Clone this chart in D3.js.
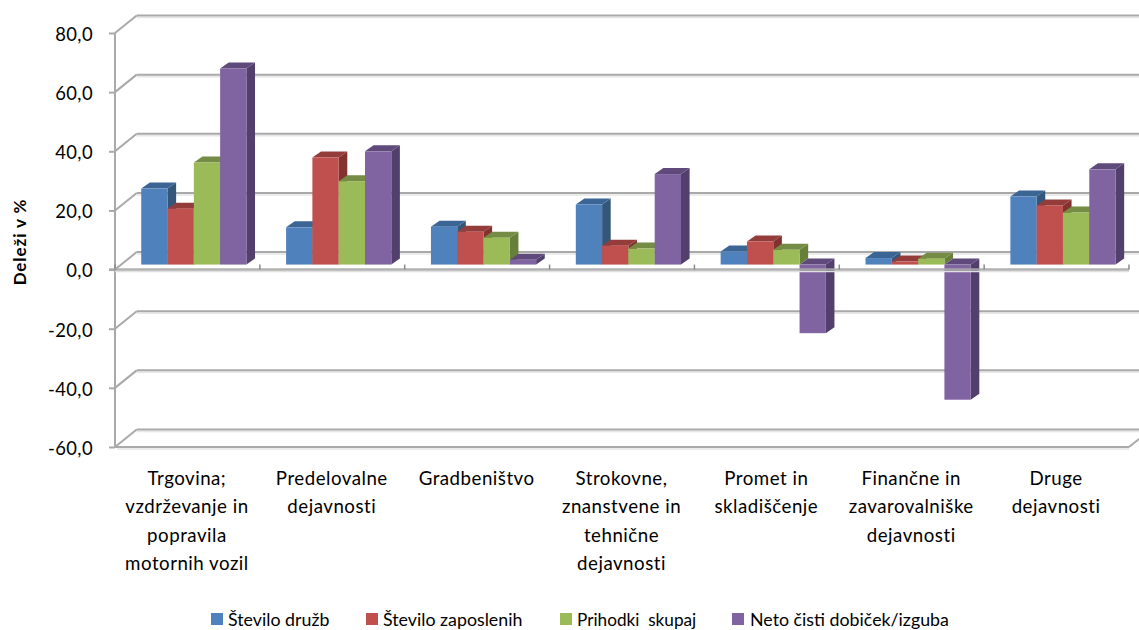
<!DOCTYPE html>
<html><head><meta charset="utf-8">
<script src="https://cdn.jsdelivr.net/npm/d3@7/dist/d3.min.js"></script>
<style>html,body{margin:0;background:#fff}svg{display:block}text{font-family:Lato,"Open Sans",sans-serif;fill:#000}</style>
</head><body><svg id="c" width="1139" height="630"></svg>
<script>
const categories=[["Trgovina;","vzdrževanje in","popravila","motornih vozil"],["Predelovalne","dejavnosti"],["Gradbeništvo"],["Strokovne,","znanstvene in","tehnične","dejavnosti"],["Promet in","skladiščenje"],["Finančne in","zavarovalniške","dejavnosti"],["Druge","dejavnosti"]];
const seriesNames=["Število družb","Število zaposlenih","Prihodki  skupaj","Neto čisti dobiček/izguba"];
const stevilo=[25.7,12.6,12.8,20.3,4.4,2.2,23.0];
const zaposleni=[18.9,36.2,11.1,6.4,7.8,1.0,20.0];
const prihodki=[34.5,28.2,9.1,5.4,5.0,2.0,17.6];
const dobicek=[66.3,38.3,1.6,30.6,-23.2,-45.7,32.2];
const seriesValues=[stevilo,zaposleni,prihodki,dobicek];
const yTicks=[-60,-40,-20,0,20,40,60,80];
const faceColors=["#4f81bd","#c0504d","#9bbb59","#8064a2"];
const topColors=["#3b6595","#943c3a","#748c43","#5f4a7b"];
const sideColors=["#345779","#82322f","#66803a","#533f6b"];
const legendTextX=[228,383,577,750];
const legendSwatchX=[211,366,560,732];

const svg=d3.select("#c");
const L=115,R=1129,T=33,B=447,GX=21.7,GY=17.5;   // plot frame and wall depth
const PX=6.4,PY=5,DX=8.6,DY=6;                  // bar plane shift, bar depth
const BW=26.3;
const y=d3.scaleLinear().domain([-60,80]).range([B,T]);
const x=d3.scaleBand().domain(categories.map((d,i)=>i)).range([L,R]);
const s=d3.scaleBand().domain(d3.range(4)).range([(x.bandwidth()-4*BW)/2,(x.bandwidth()+4*BW)/2]);
const GRID="#a9a9a9",SOFT="#e6e6e6";

function line(g,x1,y1,x2,y2,c=GRID,w=2){g.append("line").attr("x1",x1).attr("y1",y1).attr("x2",x2).attr("y2",y2).attr("stroke",c).attr("stroke-width",w);}

// walls
const wall=svg.append("g");
yTicks.forEach(t=>{
  const yy=y(t);
  line(wall,L+GX,yy-GY+2,1139,yy-GY+2,SOFT,1.5);
  line(wall,L+GX,yy-GY,1139,yy-GY);
  line(wall,L,yy,L+GX,yy-GY);
});
line(wall,L+2,B+2,R,B+2,SOFT,1.5);
line(wall,L,B,R,B);
line(wall,R,B,1139,B-8);
line(wall,L,T,L,B);

// bars
const bars=svg.append("g");
categories.forEach((c,i)=>{
  seriesValues.forEach((vals,k)=>{
    const v=vals[i];
    const x0=x(i)+s(k)+PX, x1=x0+BW;
    const y0=y(0)-PY, yv=y(v)-PY;
    const top=Math.min(y0,yv), bot=Math.max(y0,yv);
    const g=bars.append("g");
    g.append("polygon").attr("fill",sideColors[k])
      .attr("points",[[x1,top],[x1+DX,top-DY],[x1+DX,bot-DY],[x1,bot]].join(" "));
    g.append("polygon").attr("fill",topColors[k])
      .attr("points",[[x0,top],[x0+DX,top-DY],[x1+DX,top-DY],[x1,top]].join(" "));
    g.append("rect").attr("x",x0).attr("y",top).attr("width",BW).attr("height",bot-top).attr("fill",faceColors[k]);
  });
});

// axes
const yAxis=d3.axisLeft(y).tickValues(yTicks).tickSize(6).tickPadding(16)
  .tickFormat(d=>d3.format(".1f")(d).replace(".",",").replace("−","-"));
const ya=svg.append("g").attr("transform",`translate(${L},0)`).call(yAxis);
ya.select(".domain").remove();
ya.selectAll("line").attr("stroke",GRID).attr("stroke-width",2);
ya.selectAll("text").attr("font-size",18.4).attr("dy","0.4em").style("letter-spacing","0.4px");

const zero=y(0);
svg.append("line").attr("x1",L).attr("x2",R).attr("y1",zero+2).attr("y2",zero+2).attr("stroke","#e0e0e0").attr("stroke-width",1.5);
svg.append("line").attr("x1",L-6).attr("x2",R).attr("y1",zero).attr("y2",zero).attr("stroke",GRID).attr("stroke-width",2.4).attr("stroke-opacity",.9);
d3.range(8).forEach(i=>{
  const xx=L+i*x.bandwidth();
  line(svg,xx,zero-5,xx,zero,"#8a8a8a",1.5);
});

// category labels
categories.forEach((c,i)=>{
  const t=svg.append("text").attr("text-anchor","middle").attr("font-size",18.7).style("letter-spacing","0.5px");
  c.forEach((ln,j)=>t.append("tspan").attr("x",x(i)+x.bandwidth()/2-0.5).attr("y",485+j*28.4).text(ln));
});

// axis title
svg.append("text").attr("transform","translate(26,242) rotate(-90)").attr("text-anchor","middle")
  .attr("font-size",17).attr("font-weight",700).style("letter-spacing","0.9px").text("Deleži v %");

// legend
seriesNames.forEach((n,k)=>{
  svg.append("rect").attr("x",legendSwatchX[k]).attr("y",613).attr("width",12).attr("height",12).attr("fill",faceColors[k]);
  svg.append("text").attr("x",legendTextX[k]).attr("y",626).attr("font-size",k==2?17.2:17.8).style("white-space","pre").text(n);
});
</script></body></html>
